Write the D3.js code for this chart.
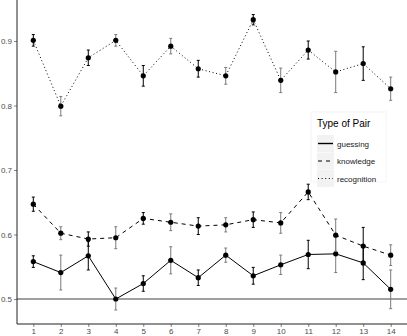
<!DOCTYPE html>
<html><head><meta charset="utf-8">
<script src="https://cdn.jsdelivr.net/npm/d3@7"></script>
<style>body{margin:0;background:#fff}svg{display:block;font-family:"Liberation Sans",Arial,sans-serif}</style>
</head><body><svg id="c" width="407" height="336"></svg>
<script>
const pairs = [1,2,3,4,5,6,7,8,9,10,11,12,13,14];
const yTicks = [0.5,0.6,0.7,0.8,0.9];
const seriesNames = ["guessing","knowledge","recognition"];
const guessing    = [0.558,0.541,0.567,0.500,0.524,0.560,0.533,0.568,0.536,0.553,0.569,0.570,0.556,0.515];
const guessingErr = [0.009,0.027,0.022,0.017,0.012,0.021,0.012,0.011,0.013,0.015,0.022,0.029,0.026,0.030];
const knowledge    = [0.647,0.602,0.593,0.595,0.625,0.619,0.613,0.615,0.623,0.618,0.666,0.599,0.582,0.568];
const knowledgeErr = [0.011,0.010,0.011,0.017,0.009,0.013,0.013,0.011,0.012,0.016,0.012,0.025,0.029,0.016];
const recognition    = [0.901,0.799,0.874,0.901,0.846,0.892,0.857,0.846,0.933,0.839,0.886,0.852,0.865,0.826];
const recognitionErr = [0.009,0.015,0.012,0.009,0.016,0.012,0.013,0.013,0.008,0.019,0.014,0.032,0.026,0.018];
const refLine = 0.5;

const svg = d3.select("#c");
const x = d3.scaleLinear().domain([1,14]).range([33.3,390.7]);
const y = d3.scaleLinear().domain([0.5,0.9]).range([299,41]);
const dashes = {guessing:null, knowledge:"4,4", recognition:"1,2.6"};
const data = {
  guessing: {v:guessing, e:guessingErr},
  knowledge: {v:knowledge, e:knowledgeErr},
  recognition: {v:recognition, e:recognitionErr}
};

// reference line
svg.append("line").attr("x1",17).attr("x2",407).attr("y1",y(refLine)).attr("y2",y(refLine))
  .attr("stroke","#7f7f7f").attr("stroke-width",1.3);

// axes
const yAxis = svg.append("g").attr("transform","translate(17,0)")
  .call(d3.axisLeft(y).tickValues(yTicks).tickFormat(d3.format(".1f")).tickSize(3).tickPadding(2));
const xAxis = svg.append("g").attr("transform","translate(0,324)")
  .call(d3.axisBottom(x).tickValues(pairs).tickSize(3).tickPadding(1));
[yAxis,xAxis].forEach(g=>{
  g.select(".domain").remove();
  g.selectAll(".tick line").attr("stroke","#333").attr("stroke-width",0.6);
  g.selectAll("text").attr("fill","#4d4d4d").style("font-size","8px").style("font-family","'Liberation Sans',Arial,sans-serif");
});
svg.append("line").attr("x1",17).attr("x2",17).attr("y1",0).attr("y2",324).attr("stroke","#222").attr("stroke-width",1);
svg.append("line").attr("x1",17).attr("x2",407).attr("y1",324).attr("y2",324).attr("stroke","#222").attr("stroke-width",1);

const line = d3.line().x((d,i)=>x(pairs[i])).y(d=>y(d));
seriesNames.forEach(name=>{
  const s = data[name];
  svg.append("path").datum(s.v).attr("d",line).attr("fill","none")
    .attr("stroke","#000").attr("stroke-width",1)
    .attr("stroke-dasharray",dashes[name]);
  const g = svg.append("g");
  s.v.forEach((v,i)=>{
    const col = (pairs[i]%2===0) ? "#7a7a7a" : "#000";
    const xx = x(pairs[i]);
    const lo = y(v - s.e[i]), hi = y(v + s.e[i]);
    g.append("line").attr("x1",xx).attr("x2",xx).attr("y1",lo).attr("y2",hi).attr("stroke",col).attr("stroke-width",1);
    g.append("line").attr("x1",xx-1.5).attr("x2",xx+1.5).attr("y1",lo).attr("y2",lo).attr("stroke",col).attr("stroke-width",1);
    g.append("line").attr("x1",xx-1.5).attr("x2",xx+1.5).attr("y1",hi).attr("y2",hi).attr("stroke",col).attr("stroke-width",1);
  });
  g.selectAll("circle").data(s.v).join("circle")
    .attr("cx",(d,i)=>x(pairs[i])).attr("cy",d=>y(d)).attr("r",2.6).attr("fill","#000");
});

// legend
const lg = svg.append("g").attr("transform","translate(311,112)");
lg.append("rect").attr("width",75).attr("height",70).attr("fill","#fff").attr("stroke","#f4f4f4");
lg.append("text").attr("x",6).attr("y",15).text("Type of Pair").style("font-size","10px").attr("fill","#000");
seriesNames.forEach((name,i)=>{
  const cy = 23 + i*17.5 + 8.5;
  lg.append("rect").attr("x",6).attr("y",cy-8.5).attr("width",17).attr("height",17).attr("fill","#f2f2f2");
  lg.append("line").attr("x1",7).attr("x2",22).attr("y1",cy).attr("y2",cy).attr("stroke","#000")
    .attr("stroke-width",name==="guessing"?1.4:1).attr("stroke-dasharray",dashes[name]);
  lg.append("text").attr("x",26).attr("y",cy+3).text(name).style("font-size","8px").attr("fill","#1a1a1a");
});
</script></body></html>
